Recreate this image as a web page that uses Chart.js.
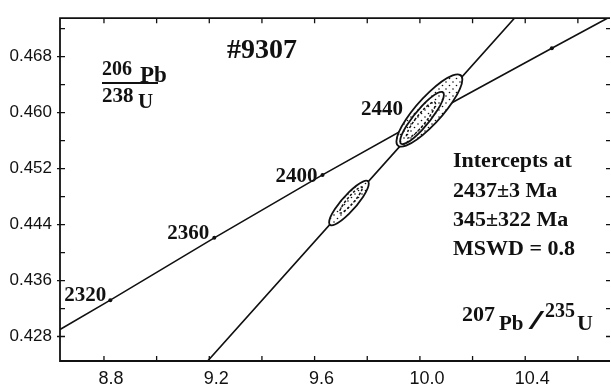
<!DOCTYPE html>
<html>
<head>
<meta charset="utf-8">
<script src="https://cdn.jsdelivr.net/npm/chart.js@4/dist/chart.umd.min.js"></script>
<style>
  html, body { margin: 0; padding: 0; background: #fff; overflow: hidden; }
  canvas { display: block; }
</style>
</head>
<body>
<canvas id="c" width="611" height="385"></canvas>
<script>
// Axis ranges (207Pb/235U on x, 206Pb/238U on y)
const xRange = [8.633, 10.722];
const yRange = [0.4245, 0.4735];

// Tick labels and tick marks
const xTickLabels = [8.8, 9.2, 9.6, 10.0, 10.4];
const yTickLabels = [0.428, 0.436, 0.444, 0.452, 0.460, 0.468];
const xTickMarks = [8.8, 9.0, 9.2, 9.4, 9.6, 9.8, 10.0, 10.2, 10.4, 10.6];
const yTickMarks = [0.428, 0.432, 0.436, 0.440, 0.444, 0.448, 0.452, 0.456, 0.460, 0.464, 0.468, 0.472];

// Concordia: age marks (Ma) and their ratios, plus the curve ends
const concordiaAges = [2320, 2360, 2400, 2440, 2480];
const concordiaX = [8.824, 9.219, 9.630, 10.057, 10.501];
const concordiaY = [0.4332, 0.4421, 0.4511, 0.4601, 0.4692];
const concordiaEndX = [8.633, 10.712];
const concordiaEndY = [0.4290, 0.4735];

// Discordia: lower intercept (345 Ma), upper intercept (2437 Ma), top end
const discordiaX = [0.405, 10.024, 10.359];
const discordiaY = [0.0550, 0.4594, 0.4735];

// Analyses: outer error ellipses (centre, half-extents, correlation)
const spotX = [10.036, 9.7305];
const spotY = [0.4603, 0.44708];
const spotHx = [0.1252, 0.0754];
const spotHy = [0.00517, 0.00319];
const spotRho = [0.858, 0.873];

// Middle ellipse of the upper analysis
const midX = [10.008];
const midY = [0.45924];
const midHx = [0.0832];
const midHy = [0.00374];
const midRho = [0.887];

// Inner ellipses of both analyses
const coreX = [10.004, 9.738];
const coreY = [0.45895, 0.44751];
const coreHx = [0.0553, 0.0430];
const coreHy = [0.00258, 0.001865];
const coreRho = [0.903, 0.917];

const ink = '#111';

const concordiaData = [{ x: concordiaEndX[0], y: concordiaEndY[0] }]
  .concat(concordiaAges.map((a, i) => ({ x: concordiaX[i], y: concordiaY[i], age: a })))
  .concat([{ x: concordiaEndX[1], y: concordiaEndY[1] }]);
const discordiaData = discordiaX.map((x, i) => ({ x, y: discordiaY[i] }));

// Stipple used inside the error ellipses
function stipple(ctx) {
  const t = document.createElement('canvas');
  t.width = 7; t.height = 7;
  const g = t.getContext('2d');
  g.fillStyle = ink;
  g.beginPath(); g.arc(1.5, 1.5, 0.8, 0, Math.PI * 2); g.fill();
  g.beginPath(); g.arc(5, 5, 0.8, 0, Math.PI * 2); g.fill();
  return ctx.createPattern(t, 'repeat');
}

// Build an ellipse path from centre, half-extents and correlation (data units)
function ellipsePath(chart, cx, cy, hx, hy, rho) {
  const xs = chart.scales.x, ys = chart.scales.y, ctx = chart.ctx;
  const px = xs.getPixelForValue(cx), py = ys.getPixelForValue(cy);
  const ax = xs.getPixelForValue(cx + hx) - px;
  const ay = ys.getPixelForValue(cy + rho * hy) - py;
  const by = ys.getPixelForValue(cy + hy * Math.sqrt(1 - rho * rho)) - py;
  ctx.save();
  ctx.translate(px, py);
  ctx.transform(ax, ay, 0, by, 0, 0);
  ctx.beginPath();
  ctx.arc(0, 0, 1, 0, Math.PI * 2);
  ctx.closePath();
  ctx.restore();
}

const ellipsePlugin = {
  id: 'ellipses',
  afterDatasetsDraw(chart) {
    const ctx = chart.ctx;
    const pat = stipple(ctx);
    ctx.save();
    ctx.strokeStyle = ink;
    ctx.lineWidth = 1.8;
    spotX.forEach((x, i) => {
      ellipsePath(chart, x, spotY[i], spotHx[i], spotHy[i], spotRho[i]);
      ctx.fillStyle = '#fff'; ctx.fill();
      ctx.fillStyle = pat; ctx.fill();
      ctx.setLineDash([]); ctx.stroke();
    });
    midX.forEach((x, i) => {
      ellipsePath(chart, x, midY[i], midHx[i], midHy[i], midRho[i]);
      ctx.setLineDash([]); ctx.stroke();
    });
    ctx.lineWidth = 1.5;
    coreX.forEach((x, i) => {
      ellipsePath(chart, x, coreY[i], coreHx[i], coreHy[i], coreRho[i]);
      ctx.setLineDash([2.5, 2]); ctx.stroke();
    });
    ctx.restore();
  }
};

// Frame on left/top/bottom with inward tick marks on all four sides
const framePlugin = {
  id: 'frame',
  afterDraw(chart) {
    const { ctx, chartArea: a } = chart;
    const xs = chart.scales.x, ys = chart.scales.y;
    ctx.save();
    ctx.strokeStyle = ink;
    ctx.lineWidth = 1.8;
    ctx.beginPath();
    ctx.moveTo(a.right, a.top); ctx.lineTo(a.left, a.top);
    ctx.lineTo(a.left, a.bottom); ctx.lineTo(a.right, a.bottom);
    ctx.stroke();
    ctx.lineWidth = 1.3;
    ctx.beginPath();
    xTickMarks.forEach(v => {
      const p = xs.getPixelForValue(v);
      ctx.moveTo(p, a.bottom); ctx.lineTo(p, a.bottom - 5);
      ctx.moveTo(p, a.top); ctx.lineTo(p, a.top + 5);
    });
    yTickMarks.forEach(v => {
      const p = ys.getPixelForValue(v);
      const major = yTickLabels.some(t => Math.abs(t - v) < 1e-6);
      ctx.moveTo(major ? a.left - 3 : a.left, p); ctx.lineTo(a.left + 5, p);
      ctx.moveTo(a.right, p); ctx.lineTo(a.right - 4, p);
    });
    ctx.stroke();
    ctx.restore();
  }
};

function txt(ctx, s, x, y, size, align) {
  ctx.font = 'bold ' + size + 'px "Liberation Serif", "DejaVu Serif", serif';
  ctx.textAlign = align || 'left';
  ctx.fillText(s, x, y);
}

// Age labels, sample name, axis ratio titles and intercept summary
const notesPlugin = {
  id: 'notes',
  afterDraw(chart) {
    const ctx = chart.ctx;
    const xs = chart.scales.x, ys = chart.scales.y;
    const shift = { 2320: [-4, 1], 2360: [-5, 1], 2400: [-5, 7], 2440: [-32, 3] };
    ctx.save();
    ctx.fillStyle = ink;
    ctx.textBaseline = 'alphabetic';
    concordiaAges.forEach((age, i) => {
      const d = shift[age];
      if (!d) return;
      const px = xs.getPixelForValue(concordiaX[i]);
      const py = ys.getPixelForValue(concordiaY[i]);
      txt(ctx, String(age), px + d[0], py + d[1], 21, 'right');
    });

    txt(ctx, '#9307', 227, 58, 28);

    // 206Pb / 238U
    txt(ctx, '206', 102, 75, 20);
    txt(ctx, 'Pb', 140, 82, 23);
    ctx.fillRect(102, 82, 56, 2);
    txt(ctx, '238', 102, 102, 21);
    txt(ctx, 'U', 138, 108, 21);

    // Intercept results
    txt(ctx, 'Intercepts at', 453, 167, 22);
    txt(ctx, '2437±3 Ma', 453, 197, 22);
    txt(ctx, '345±322 Ma', 453, 226, 22);
    txt(ctx, 'MSWD = 0.8', 453, 255, 22);

    // 207Pb / 235U
    txt(ctx, '207', 462, 321, 22);
    txt(ctx, 'Pb', 499, 330, 21);
    ctx.save();
    ctx.translate(529, 329);
    ctx.scale(1.9, 1);
    ctx.font = 'bold 28px "Liberation Serif", serif';
    ctx.textAlign = 'left';
    ctx.fillText('/', 0, 0);
    ctx.restore();
    txt(ctx, '235', 545, 317, 20);
    txt(ctx, 'U', 577, 330, 22);
    ctx.restore();
  }
};

new Chart(document.getElementById('c'), {
  type: 'scatter',
  data: {
    datasets: [
      {
        data: concordiaData,
        showLine: true,
        borderColor: ink,
        borderWidth: 1.6,
        backgroundColor: ink,
        pointBorderWidth: 0,
        pointRadius: c => (c.raw && c.raw.age ? 2 : 0),
        tension: 0
      },
      {
        data: discordiaData,
        showLine: true,
        borderColor: ink,
        borderWidth: 1.6,
        pointRadius: 0,
        tension: 0
      }
    ]
  },
  options: {
    responsive: false,
    animation: false,
    devicePixelRatio: 1,
    layout: { padding: { top: 14, right: 1, left: 0, bottom: 0 } },
    plugins: { legend: { display: false }, tooltip: { enabled: false } },
    scales: {
      x: {
        type: 'linear',
        min: xRange[0], max: xRange[1],
        grid: { display: false, drawTicks: false },
        border: { display: false },
        ticks: {
          color: ink,
          font: { family: '"Liberation Sans", Arial, sans-serif', size: 18 },
          padding: 7,
          labelOffset: 7,
          maxRotation: 0,
          callback: v => Number(v).toFixed(1)
        },
        afterBuildTicks: s => { s.ticks = xTickLabels.map(v => ({ value: v })); },
        afterFit: s => { s.height = 24; }
      },
      y: {
        type: 'linear',
        min: yRange[0], max: yRange[1],
        grid: { display: false, drawTicks: false },
        border: { display: false },
        ticks: {
          color: ink,
          font: { family: '"Liberation Sans", Arial, sans-serif', size: 17 },
          padding: 8,
          callback: v => Number(v).toFixed(3)
        },
        afterBuildTicks: s => { s.ticks = yTickLabels.map(v => ({ value: v })); },
        afterFit: s => { s.width = 60; }
      }
    }
  },
  plugins: [ellipsePlugin, framePlugin, notesPlugin]
});
</script>
</body>
</html>
